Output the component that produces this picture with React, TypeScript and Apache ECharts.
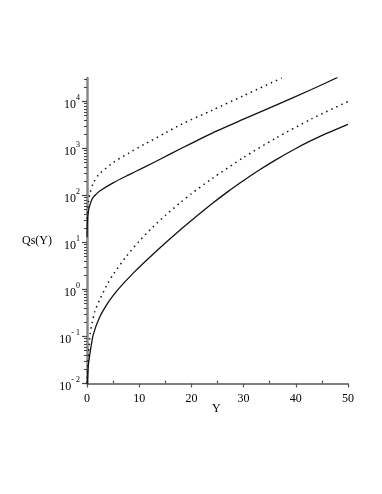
import React, { useEffect, useRef } from 'react';
import * as echarts from 'echarts';

// Solid upper curve
const s1Y = [0, 0.1, 0.25, 0.5, 1, 1.5, 2.5, 5, 8, 11, 14, 18, 22, 25, 30, 36, 43, 48];
const s1Q = [13, 32, 45, 60, 85, 100, 126, 186, 275, 400, 590, 1000, 1660, 2400, 4200, 8200, 18000, 32500];
// Dotted upper curve
const d1Y = [0, 0.15, 0.3, 0.6, 1.2, 2.2, 5, 8, 11, 15, 18, 24, 30, 37.3];
const d1Q = [32, 56, 76, 115, 182, 275, 500, 800, 1230, 2140, 3240, 6530, 13300, 31600];
// Solid lower curve
const s2Y = [0.04, 0.25, 0.6, 1.2, 2.5, 4, 5, 6.3, 9, 11, 15, 18, 20, 24, 27, 30, 33, 36, 40, 43, 46, 50];
const s2Q = [0.01, 0.024, 0.046, 0.11, 0.269, 0.519, 0.741, 1.11, 2.31, 3.8, 9.72, 19.1, 29.5, 67.6, 121, 208, 348, 560, 1000, 1483, 2123, 3273];
// Dotted lower curve
const d2Y = [0.03, 0.15, 0.3, 0.6, 1, 1.5, 2.5, 4, 5, 7.5, 10, 12.5, 15, 18, 20, 24, 30, 36, 43, 50];
const d2Q = [0.01, 0.0251, 0.0468, 0.112, 0.2, 0.339, 0.631, 1.36, 2.07, 5.01, 10.7, 20.7, 37.6, 72.4, 109, 231, 646, 1622, 4266, 10000];

const yDecades = [-2, -1, 0, 1, 2, 3, 4];
const xMajor = [0, 10, 20, 30, 40, 50];
const xMinor = [5, 15, 25, 35, 45];
const yMaxLog = 4.5;

const FONT = '"Liberation Serif", "Times New Roman", serif';

function toData(xs: number[], qs: number[]) {
  return xs.map((x, i) => [x, Math.log10(qs[i])]);
}

export default function App() {
  const ref = useRef<HTMLDivElement>(null);
  useEffect(() => {
    if (!ref.current) return;
    const chart = echarts.init(ref.current, null, { renderer: 'svg' });
    const yMinor: number[] = [];
    yDecades.forEach((n) => {
      for (let k = 2; k <= 9; k++) {
        const v = n + Math.log10(k);
        if (v <= yMaxLog) yMinor.push(v);
      }
    });
    const lineCol = '#111';
    chart.setOption({
      animation: false,
      grid: { left: 87, right: 34, top: 78, bottom: 110.5 },
      xAxis: [
        {
          type: 'value', min: 0, max: 50,
          axisLine: { show: true, onZero: false, lineStyle: { color: '#555', width: 1.5 } },
          axisTick: { show: true, customValues: xMajor, length: 4, lineStyle: { color: '#555', width: 1.2 } },
          axisLabel: { customValues: xMajor, margin: 8, color: '#000', fontSize: 12, fontFamily: FONT },
          splitLine: { show: false },
        },
        {
          type: 'value', min: 0, max: 50, position: 'bottom',
          axisLine: { show: false, onZero: false },
          axisTick: { show: true, inside: true, customValues: xMinor, length: 3, lineStyle: { color: '#555', width: 1.2 } },
          axisLabel: { show: false },
          splitLine: { show: false },
        },
      ],
      yAxis: [
        {
          type: 'value', min: -2, max: yMaxLog,
          axisLine: { show: true, onZero: false, lineStyle: { color: '#888', width: 2.5 } },
          axisTick: { show: true, customValues: yDecades, length: 5, lineStyle: { color: '#444', width: 1.2 } },
          axisLabel: {
            customValues: yDecades, margin: 7, color: '#000', fontFamily: FONT,
            formatter: (v: number) => `{b|10}{s|${v < 0 ? '- ' + -v : v}}`,
            rich: {
              b: { fontSize: 12, fontFamily: FONT, color: '#000', verticalAlign: 'bottom', lineHeight: 16 },
              s: { fontSize: 8, fontFamily: FONT, color: '#000', verticalAlign: 'top', lineHeight: 16 },
            },
          },
          splitLine: { show: false },
        },
        {
          type: 'value', min: -2, max: yMaxLog, position: 'left',
          axisLine: { show: false, onZero: false },
          axisTick: { show: true, customValues: yMinor, length: 3, lineStyle: { color: '#444', width: 1 } },
          axisLabel: { show: false },
          splitLine: { show: false },
        },
      ],
      series: [
        { type: 'line', data: toData(s1Y, s1Q), showSymbol: false, smooth: 0.25, clip: true, lineStyle: { color: lineCol, width: 1.3 } },
        { type: 'line', data: toData(d1Y, d1Q), showSymbol: false, smooth: 0.25, clip: true, lineStyle: { color: lineCol, width: 1.5, type: [1.5, 4] } },
        { type: 'line', data: toData(s2Y, s2Q), showSymbol: false, smooth: 0.25, clip: true, lineStyle: { color: lineCol, width: 1.3 } },
        { type: 'line', data: toData(d2Y, d2Q), showSymbol: false, smooth: 0.25, clip: true, lineStyle: { color: lineCol, width: 1.5, type: [1.5, 4] } },
      ],
      graphic: [
        { type: 'text', left: 22, top: 234, style: { text: 'Qs(Y)', fontSize: 12, fontFamily: FONT, fill: '#000' } },
        { type: 'text', left: 212, top: 402, style: { text: 'Y', fontSize: 12, fontFamily: FONT, fill: '#000' } },
      ],
    });
    return () => chart.dispose();
  }, []);
  return <div ref={ref} style={{ position: 'fixed', left: 0, top: 0, width: 382, height: 494 }} />;
}
